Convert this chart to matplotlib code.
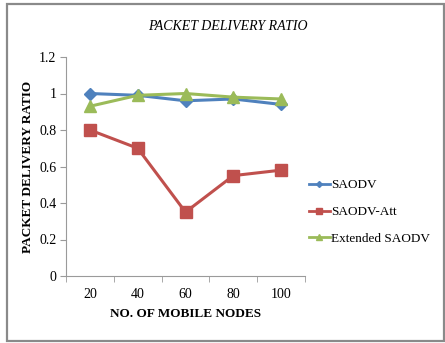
import matplotlib
matplotlib.use("Agg")
import matplotlib.pyplot as plt
from matplotlib.patches import Rectangle
from matplotlib.lines import Line2D

nodes = ["20", "40", "60", "80", "100"]
saodv = [1.00, 0.99, 0.96, 0.97, 0.94]
saodv_att = [0.80, 0.70, 0.35, 0.55, 0.58]
extended = [0.93, 0.99, 1.00, 0.98, 0.97]
y_ticks = [0, 0.2, 0.4, 0.6, 0.8, 1, 1.2]
y_tick_labels = ["0", "0.2", "0.4", "0.6", "0.8", "1", "1.2"]

plt.rcParams["font.family"] = ["Liberation Serif", "DejaVu Serif"]

fig = plt.figure(figsize=(4.45, 3.43), dpi=100)
fig.patches.append(Rectangle((7 / 445, 2 / 343), 437 / 445, 337 / 343,
                             transform=fig.transFigure, fill=False,
                             edgecolor="#8a8a8a", linewidth=1.6))

ax = fig.add_axes([66 / 445, 67 / 343, 239 / 445, 219 / 343])
x = list(range(len(nodes)))

blue, red, green = "#4F81BD", "#C0504D", "#9BBB59"
ax.plot(x, saodv, color=blue, lw=2.2, marker="D", ms=6, label="SAODV")
ax.plot(x, saodv_att, color=red, lw=2.2, marker="s", ms=8, label="SAODV-Att")
ax.plot(x, extended, color=green, lw=2.2, marker="^", ms=8, label="Extended SAODV")

ax.set_xlim(-0.5, len(nodes) - 0.5)
ax.set_ylim(0, 1.2)
ax.set_yticks(y_ticks)
ax.set_yticklabels(y_tick_labels, fontsize=10)
ax.set_xticks(x)
ax.set_xticklabels(nodes, fontsize=10)
ax.set_xticks([i - 0.5 for i in range(len(nodes) + 1)], minor=True)
ax.tick_params(axis="x", which="major", length=0, pad=9)
ax.tick_params(axis="x", which="minor", length=4, color="#9a9a9a")
ax.tick_params(axis="y", length=4, color="#9a9a9a", pad=3)
for side in ("top", "right"):
    ax.spines[side].set_visible(False)
for side in ("left", "bottom"):
    ax.spines[side].set_color("#9a9a9a")

ax.set_xlabel("NO. OF MOBILE NODES", fontsize=9.5, fontweight="bold", labelpad=5)
ax.set_ylabel("PACKET DELIVERY RATIO", fontsize=9.5, fontweight="bold")
ax.yaxis.set_label_coords(-32 / 239, 0.5)

fig.text(228 / 445, 1 - 27 / 343, "PACKET DELIVERY RATIO", fontsize=10,
         style="italic", ha="center", va="center")

handles = [Line2D([], [], color=blue, lw=2, marker="D", ms=3),
           Line2D([], [], color=red, lw=2, marker="s", ms=5),
           Line2D([], [], color=green, lw=2, marker="^", ms=4)]
fig.legend(handles, ["SAODV", "SAODV-Att", "Extended SAODV"],
           loc="center left", bbox_to_anchor=(297 / 445, 1 - 212 / 343),
           frameon=False, fontsize=9.5, handlelength=1.6, handletextpad=0.1,
           labelspacing=1.1)

fig.savefig("out.png", dpi=100)
